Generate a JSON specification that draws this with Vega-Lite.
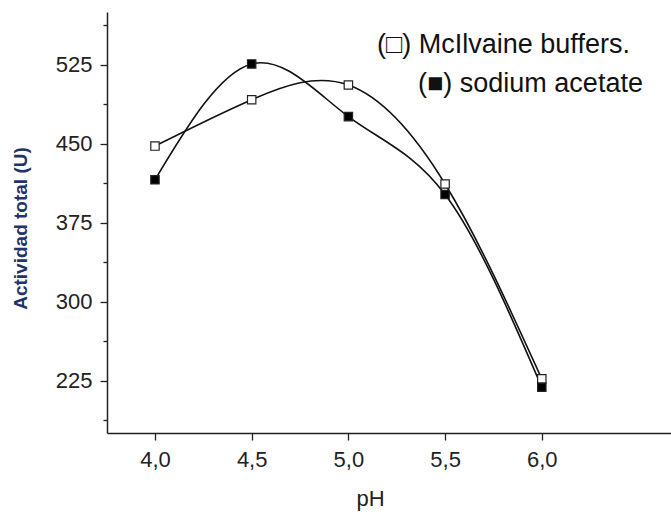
{
  "$schema": "https://vega.github.io/schema/vega-lite/v6.json",
  "autosize": {"type": "none"},
  "padding": {"left": 107, "top": 12, "right": 0, "bottom": 79},
  "width": 564,
  "height": 421,
  "background": "white",
  "config": {
    "view": {"stroke": null},
    "font": "Liberation Sans",
    "axis": {
      "domainColor": "#222222",
      "domainWidth": 1.5,
      "tickColor": "#222222",
      "tickWidth": 1.3,
      "grid": false,
      "labelColor": "#222222",
      "labelFont": "Liberation Sans",
      "titleFont": "Liberation Sans"
    }
  },
  "datasets": {
    "series": [
      {"series": "McIlvaine", "pH": 4.0, "actividad": 448},
      {"series": "McIlvaine", "pH": 4.5, "actividad": 492},
      {"series": "McIlvaine", "pH": 5.0, "actividad": 506},
      {"series": "McIlvaine", "pH": 5.5, "actividad": 412},
      {"series": "McIlvaine", "pH": 6.0, "actividad": 227},
      {"series": "sodium acetate", "pH": 4.0, "actividad": 416},
      {"series": "sodium acetate", "pH": 4.5, "actividad": 526},
      {"series": "sodium acetate", "pH": 5.0, "actividad": 476},
      {"series": "sodium acetate", "pH": 5.5, "actividad": 402},
      {"series": "sodium acetate", "pH": 6.0, "actividad": 219}
    ],
    "legend": [
      {"pH": 5.148, "actividad": 536.4, "label": "(□) McIlvaine buffers."},
      {"pH": 5.36, "actividad": 499.4, "label": "(■) sodium acetate"}
    ]
  },
  "layer": [
    {
      "data": {"name": "series"},
      "mark": {"type": "line", "interpolate": "natural", "color": "#111111", "strokeWidth": 1.6},
      "encoding": {
        "x": {
          "field": "pH", "type": "quantitative",
          "scale": {"domain": [3.752, 6.668], "nice": false, "zero": false},
          "axis": {
            "values": [4.0, 4.5, 5.0, 5.5, 6.0],
            "labelExpr": "replace(format(datum.value, '.1f'), '.', ',')",
            "tickSize": 7,
            "labelPadding": 9,
            "labelFontSize": 22,
            "title": "pH",
            "titleFontSize": 22,
            "titleFontWeight": "normal",
            "titleColor": "#222222",
            "titleX": 263,
            "titleY": 72,
            "titleBaseline": "alphabetic",
            "titleAlign": "center"
          }
        },
        "y": {
          "field": "actividad", "type": "quantitative",
          "scale": {"domain": [175.6, 575.3], "nice": false, "zero": false},
          "axis": {
            "values": [187.5, 225, 262.5, 300, 337.5, 375, 412.5, 450, 487.5, 525, 562.5],
            "labelExpr": "datum.value % 75 == 0 ? format(datum.value, 'd') : ''",
            "tickSize": {"condition": {"test": "datum.value % 75 == 0", "value": 7}, "value": 4},
            "labelPadding": 8,
            "labelFontSize": 22,
            "title": "Actividad total (U)",
            "titleFontSize": 19,
            "titleFontWeight": "bold",
            "titleColor": "#22336b",
            "titleAngle": -90,
            "titleX": -87,
            "titleY": 216,
            "titleAlign": "center",
            "titleBaseline": "middle"
          }
        },
        "detail": {"field": "series"}
      }
    },
    {
      "data": {"name": "series"},
      "mark": {"type": "point", "shape": "square", "size": 70, "strokeWidth": 1.2, "opacity": 1},
      "encoding": {
        "x": {"field": "pH", "type": "quantitative"},
        "y": {"field": "actividad", "type": "quantitative"},
        "fill": {
          "field": "series", "type": "nominal",
          "scale": {"domain": ["McIlvaine", "sodium acetate"], "range": ["#ffffff", "#000000"]},
          "legend": null
        },
        "stroke": {"value": "#222222"}
      }
    },
    {
      "data": {"name": "legend"},
      "mark": {"type": "text", "align": "left", "baseline": "alphabetic", "fontSize": 27, "color": "#111111", "font": "Liberation Sans"},
      "encoding": {
        "x": {"field": "pH", "type": "quantitative"},
        "y": {"field": "actividad", "type": "quantitative"},
        "text": {"field": "label"}
      }
    },
    {
      "mark": {"type": "rule", "color": "#222222", "strokeWidth": 1.8},
      "encoding": {
        "y": {"datum": 574.6}
      }
    }
  ]
}
